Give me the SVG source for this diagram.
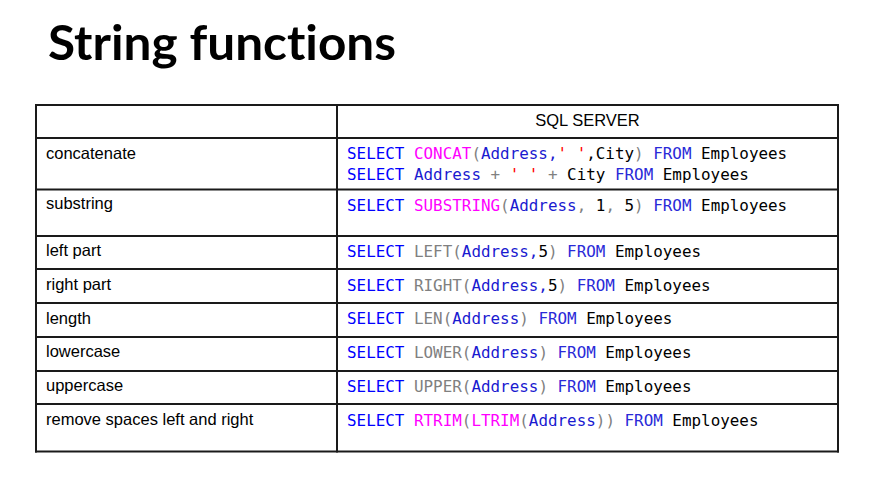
<svg xmlns="http://www.w3.org/2000/svg" width="875" height="486" viewBox="0 0 875 486">
<style>
.title{font-family:Lato,"Open Sans","Liberation Sans",sans-serif;font-weight:bold;font-size:47px;fill:#000;font-variant-ligatures:none;font-feature-settings:"liga" 0,"clig" 0}
.lbl{font-family:"Liberation Sans",Arial,sans-serif;font-size:16.5px;fill:#000}
.code{font-family:"DejaVu Sans Mono","Liberation Mono",monospace;font-size:15.9px;white-space:pre;fill:#000}
.kw{fill:#0000ff}
.fn{fill:#ff00ff}
.gr{fill:#808080}
.id{fill:#1a1ad0}
.fr{fill:#2a2ad8}
.st{fill:#ff0000}
.bk{fill:#000}
.grid line{stroke:#1a1a1a;stroke-width:2}
</style>
<rect width="875" height="486" fill="#fff"/>
<text class="title" x="48" y="60" textLength="348" lengthAdjust="spacingAndGlyphs">String functions</text>
<g class="grid" id="table-grid">
<line x1="35" y1="105" x2="839" y2="105"/>
<line x1="35" y1="138" x2="839" y2="138"/>
<line x1="35" y1="189.5" x2="839" y2="189.5"/>
<line x1="35" y1="236" x2="839" y2="236"/>
<line x1="35" y1="269" x2="839" y2="269"/>
<line x1="35" y1="303" x2="839" y2="303"/>
<line x1="35" y1="337" x2="839" y2="337"/>
<line x1="35" y1="371" x2="839" y2="371"/>
<line x1="35" y1="404" x2="839" y2="404"/>
<line x1="35" y1="451.5" x2="839" y2="451.5"/>
<line x1="36" y1="104" x2="36" y2="452.5"/>
<line x1="337" y1="104" x2="337" y2="452.5"/>
<line x1="838" y1="104" x2="838" y2="452.5"/>
</g>
<g id="header">
<text class="lbl" x="587.5" y="126" text-anchor="middle">SQL SERVER</text>
</g>
<g id="row-concatenate">
<text class="lbl" x="46" y="159">concatenate</text>
<text class="code" x="347" y="159"><tspan class="kw">SELECT </tspan><tspan class="fn">CONCAT</tspan><tspan class="gr">(</tspan><tspan class="id">Address,</tspan><tspan class="st">' '</tspan><tspan class="bk">,City</tspan><tspan class="gr">) </tspan><tspan class="fr">FROM </tspan><tspan class="bk">Employees</tspan></text>
<text class="code" x="347" y="180"><tspan class="kw">SELECT </tspan><tspan class="id">Address </tspan><tspan class="gr">+ </tspan><tspan class="st">' ' </tspan><tspan class="gr">+ </tspan><tspan class="bk">City </tspan><tspan class="fr">FROM </tspan><tspan class="bk">Employees</tspan></text>
</g>
<g id="row-substring">
<text class="lbl" x="46" y="208.5">substring</text>
<text class="code" x="347" y="210.5"><tspan class="kw">SELECT </tspan><tspan class="fn">SUBSTRING</tspan><tspan class="gr">(</tspan><tspan class="id">Address</tspan><tspan class="gr">, </tspan><tspan class="bk">1</tspan><tspan class="gr">, </tspan><tspan class="bk">5</tspan><tspan class="gr">) </tspan><tspan class="fr">FROM </tspan><tspan class="bk">Employees</tspan></text>
</g>
<g id="row-left">
<text class="lbl" x="46" y="256">left part</text>
<text class="code" x="347" y="257"><tspan class="kw">SELECT </tspan><tspan class="gr">LEFT(</tspan><tspan class="id">Address,</tspan><tspan class="bk">5</tspan><tspan class="gr">) </tspan><tspan class="fr">FROM </tspan><tspan class="bk">Employees</tspan></text>
</g>
<g id="row-right">
<text class="lbl" x="46" y="289.5">right part</text>
<text class="code" x="347" y="290.5"><tspan class="kw">SELECT </tspan><tspan class="gr">RIGHT(</tspan><tspan class="id">Address,</tspan><tspan class="bk">5</tspan><tspan class="gr">) </tspan><tspan class="fr">FROM </tspan><tspan class="bk">Employees</tspan></text>
</g>
<g id="row-length">
<text class="lbl" x="46" y="323.5">length</text>
<text class="code" x="347" y="324"><tspan class="kw">SELECT </tspan><tspan class="gr">LEN(</tspan><tspan class="id">Address</tspan><tspan class="gr">) </tspan><tspan class="fr">FROM </tspan><tspan class="bk">Employees</tspan></text>
</g>
<g id="row-lowercase">
<text class="lbl" x="46" y="357">lowercase</text>
<text class="code" x="347" y="358"><tspan class="kw">SELECT </tspan><tspan class="gr">LOWER(</tspan><tspan class="id">Address</tspan><tspan class="gr">) </tspan><tspan class="fr">FROM </tspan><tspan class="bk">Employees</tspan></text>
</g>
<g id="row-uppercase">
<text class="lbl" x="46" y="391">uppercase</text>
<text class="code" x="347" y="392"><tspan class="kw">SELECT </tspan><tspan class="gr">UPPER(</tspan><tspan class="id">Address</tspan><tspan class="gr">) </tspan><tspan class="fr">FROM </tspan><tspan class="bk">Employees</tspan></text>
</g>
<g id="row-trim">
<text class="lbl" x="46" y="424.5">remove spaces left and right</text>
<text class="code" x="347" y="425.5"><tspan class="kw">SELECT </tspan><tspan class="fn">RTRIM</tspan><tspan class="gr">(</tspan><tspan class="fn">LTRIM</tspan><tspan class="gr">(</tspan><tspan class="id">Address</tspan><tspan class="gr">)) </tspan><tspan class="fr">FROM </tspan><tspan class="bk">Employees</tspan></text>
</g>
</svg>
